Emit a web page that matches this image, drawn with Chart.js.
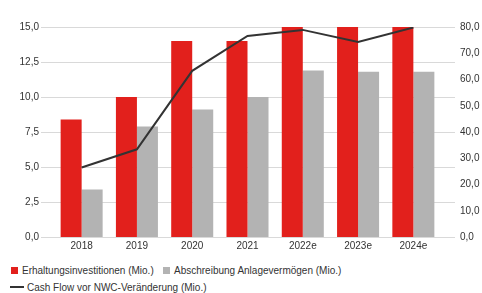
<!DOCTYPE html>
<html>
<head>
<meta charset="utf-8">
<script src="https://cdn.jsdelivr.net/npm/chart.js@4"></script>
<style>
  body { margin: 0; background: #fff; font-family: "Liberation Sans", Arial, sans-serif; }
  #wrap { position: relative; width: 482px; height: 293px; }
  #chart { position: absolute; left: 0; top: 0; }
  .leg { position: absolute; font-size: 10px; color: #333; white-space: nowrap; line-height: 12px; }
  .box { display: inline-block; width: 7px; height: 7px; margin-right: 4px; vertical-align: 0px; }
  .ln { display: inline-block; width: 14px; height: 2px; background: #333; margin-right: 3px; vertical-align: 3px; }
</style>
</head>
<body>
<div id="wrap">
  <canvas id="chart" width="482" height="262"></canvas>
  <div class="leg" style="left:11px; top:265px;"><span class="box" style="background:#e2201c"></span>Erhaltungsinvestitionen (Mio.)</div>
  <div class="leg" style="left:163px; top:265px;"><span class="box" style="background:#b3b3b3"></span>Abschreibung Anlagevermögen (Mio.)</div>
  <div class="leg" style="left:10px; top:282px;"><span class="ln"></span>Cash Flow vor NWC-Veränderung (Mio.)</div>
</div>
<script>
// chart data
const years = ['2018', '2019', '2020', '2021', '2022e', '2023e', '2024e'];
const erhaltung = [8.4, 10.0, 14.0, 14.0, 15.0, 15.0, 15.0];
const abschreibung = [3.4, 7.9, 9.1, 10.0, 11.9, 11.8, 11.8];
const cashFlow = [26.5, 33.4, 63.3, 76.6, 78.9, 74.3, 79.8];

// horizontal grid lines run a bit past the plot area on both sides
const wideGrid = {
  id: 'wideGrid',
  beforeDatasetsDraw(chart) {
    const c = chart.ctx;
    const y = chart.scales.y;
    c.save();
    c.strokeStyle = '#d9d9d9';
    c.lineWidth = 1;
    y.ticks.forEach(t => {
      const py = Math.round(y.getPixelForValue(t.value)) + 0.5;
      c.beginPath();
      c.moveTo(41, py);
      c.lineTo(455, py);
      c.stroke();
    });
    c.restore();
  }
};

const tickFont = { family: 'Liberation Sans', size: 10 };
const noGrid = { display: false, drawTicks: false };

const ctx = document.getElementById('chart').getContext('2d');
new Chart(ctx, {
  type: 'bar',
  data: {
    labels: years,
    datasets: [{
      type: 'line',
      label: 'Cash Flow vor NWC-Veränderung (Mio.)',
      data: cashFlow,
      yAxisID: 'y1',
      borderColor: '#333333',
      borderWidth: 2,
      pointRadius: 0,
      tension: 0,
      order: 0
    }, {
      label: 'Erhaltungsinvestitionen (Mio.)',
      data: erhaltung,
      backgroundColor: '#e2201c',
      yAxisID: 'y',
      order: 1
    }, {
      label: 'Abschreibung Anlagevermögen (Mio.)',
      data: abschreibung,
      backgroundColor: '#b3b3b3',
      yAxisID: 'y',
      order: 1
    }]
  },
  options: {
    responsive: false,
    animation: false,
    layout: { padding: { top: 27, left: 0, right: 0, bottom: 0 } },
    datasets: { bar: { categoryPercentage: 0.76, barPercentage: 1.0 } },
    plugins: { legend: { display: false }, tooltip: { enabled: false } },
    scales: {
      x: {
        grid: noGrid,
        border: { display: false },
        ticks: { color: '#333', font: tickFont, padding: 3 },
        afterFit(s) { s.height = 20; }
      },
      y: {
        position: 'left',
        min: 0, max: 15,
        grid: noGrid,
        border: { display: false },
        ticks: {
          stepSize: 2.5, padding: 15, color: '#333', font: tickFont,
          callback: v => v.toFixed(1).replace('.', ',')
        },
        afterFit(s) { s.width = 54; }
      },
      y1: {
        position: 'right',
        min: 0, max: 80,
        grid: noGrid,
        border: { display: false },
        ticks: {
          stepSize: 10, padding: 19, color: '#333', font: tickFont,
          callback: v => v.toFixed(1).replace('.', ',')
        },
        afterFit(s) { s.width = 41; }
      }
    }
  },
  plugins: [wideGrid]
});
</script>
</body>
</html>
